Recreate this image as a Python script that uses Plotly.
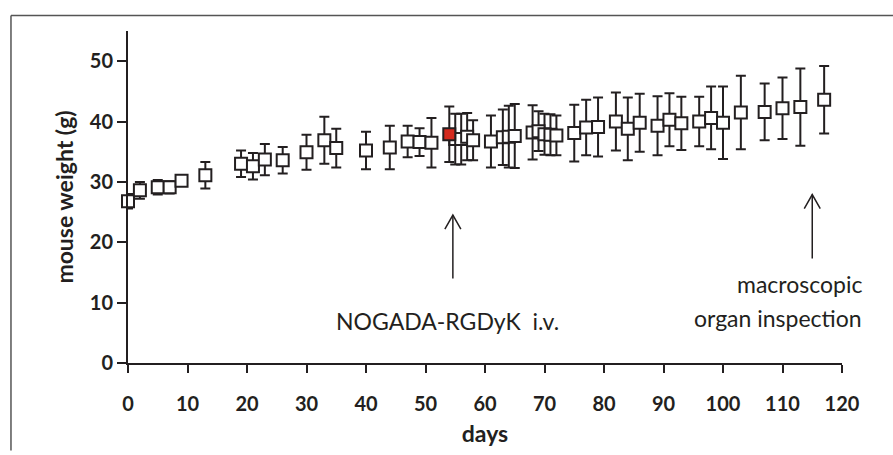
import plotly.graph_objects as go

# ---- data ----
days = [0, 2, 5, 7, 9, 13, 19, 21, 23, 26, 30, 33, 35, 40, 44, 47, 49, 51,
        55, 56, 57, 58, 61, 63, 64, 65, 68, 69, 70, 71, 72, 75, 77, 79, 82,
        84, 86, 89, 91, 93, 96, 98, 100, 103, 107, 110, 113, 117]
weight = [26.8, 28.6, 29.1, 29.1, 30.2, 31.1, 33.0, 32.6, 33.7, 33.6, 34.9,
          36.9, 35.6, 35.2, 35.7, 36.7, 36.6, 36.5,
          37.1, 37.1, 37.5, 36.9, 36.7, 37.4, 37.5, 37.6, 38.2, 38.4, 37.9,
          37.8, 37.7, 38.1, 39.0, 39.1, 40.0, 38.8, 39.8, 39.3, 40.3, 39.7,
          40.0, 40.6, 39.8, 41.5, 41.6, 42.2, 42.4, 43.6]
sd = [1.2, 1.4, 1.2, 1.0, 0.7, 2.2, 2.2, 2.2, 2.6, 2.2, 2.9, 3.9, 3.2, 3.1,
      3.6, 2.6, 2.3, 4.1,
      4.2, 4.2, 3.9, 3.3, 4.3, 4.6, 5.1, 5.3, 4.5, 3.3, 3.4, 3.4, 3.3, 4.7,
      4.6, 4.9, 4.8, 5.2, 4.8, 4.9, 4.4, 4.4, 4.1, 5.2, 6.0, 6.1, 4.7, 5.1,
      6.4, 5.6]

inj_day = [54]
inj_weight = [37.9]
inj_sd = [4.6]

x_ticks = [0, 10, 20, 30, 40, 50, 60, 70, 80, 90, 100, 110, 120]
y_ticks = [0, 10, 20, 30, 40, 50]

injection_label = "NOGADA-RGDyK\u00a0\u00a0i.v."
inspection_lines = ["macroscopic", "organ inspection"]
injection_arrow_day = 54.6
inspection_arrow_day = 115.0

INK = "#231f20"
FONT = "Lato"

fig = go.Figure()

err_style = dict(type="data", visible=True, color=INK, thickness=2, width=5)

fig.add_trace(go.Scatter(
    x=days, y=weight, mode="markers",
    error_y=dict(array=sd, **err_style),
    marker=dict(symbol="square", size=12, color="white",
                line=dict(color=INK, width=2)),
    cliponaxis=False, showlegend=False))

fig.add_trace(go.Scatter(
    x=inj_day, y=inj_weight, mode="markers",
    error_y=dict(array=inj_sd, **err_style),
    marker=dict(symbol="square", size=12, color="#d42a1e",
                line=dict(color=INK, width=2)),
    cliponaxis=False, showlegend=False))

# arrows (shaft + open head)
for xd, y0, y1 in [(injection_arrow_day, 14.0, 24.5),
                   (inspection_arrow_day, 17.3, 27.9)]:
    fig.add_shape(type="line", xref="x", yref="y", x0=xd, x1=xd, y0=y0, y1=y1,
                  line=dict(color=INK, width=1.5))
    fig.add_shape(type="path", xref="x", yref="y",
                  xsizemode="pixel", ysizemode="pixel",
                  xanchor=xd, yanchor=y1,
                  path="M-8,-14 L0,0 L8,-14",
                  line=dict(color=INK, width=1.5))

fig.add_annotation(x=53.7, y=6.9, xref="x", yref="y", text=injection_label,
                   showarrow=False, font=dict(family=FONT, size=23, color=INK))
for txt, yp in zip(inspection_lines, [0.2365, 0.1347]):
    fig.add_annotation(x=1.0308, y=yp, xref="paper", yref="paper",
                       text=txt, showarrow=False, align="right",
                       xanchor="right", yanchor="middle",
                       font=dict(family=FONT, size=23, color=INK))

# outer frame (top and left)
fig.add_shape(type="line", xref="paper", yref="paper",
              x0=-0.1639, x1=1.0714, y0=1.0464, y1=1.0464,
              line=dict(color="#555555", width=1.5))
fig.add_shape(type="line", xref="paper", yref="paper",
              x0=-0.1639, x1=-0.1639, y0=1.0464, y1=-0.2635,
              line=dict(color="#555555", width=1.5))

fig.update_layout(
    width=893, height=455,
    margin=dict(l=128, r=51, t=31, b=90),
    paper_bgcolor="white", plot_bgcolor="white",
    font=dict(family=FONT, color=INK),
    xaxis=dict(range=[0, 120], tickvals=x_ticks, showgrid=False,
               zeroline=False, showline=True, linecolor=INK, linewidth=2,
               ticks="outside", ticklen=8, tickwidth=2, tickcolor=INK,
               tickfont=dict(family=FONT, size=20, color=INK, weight="bold"),
               ticklabelstandoff=14,
               title=dict(text="<b>days</b>", standoff=12,
                          font=dict(family=FONT, size=23, color=INK))),
    yaxis=dict(range=[0, 55], tickvals=y_ticks, showgrid=False,
               zeroline=False, showline=True, linecolor=INK, linewidth=2,
               ticks="outside", ticklen=9, tickwidth=2, tickcolor=INK,
               tickfont=dict(family=FONT, size=20, color=INK, weight="bold"),
               title=dict(text="<b>mouse weight (g)</b>", standoff=10,
                          font=dict(family=FONT, size=23, color=INK))),
)

fig.write_html("out.html")
